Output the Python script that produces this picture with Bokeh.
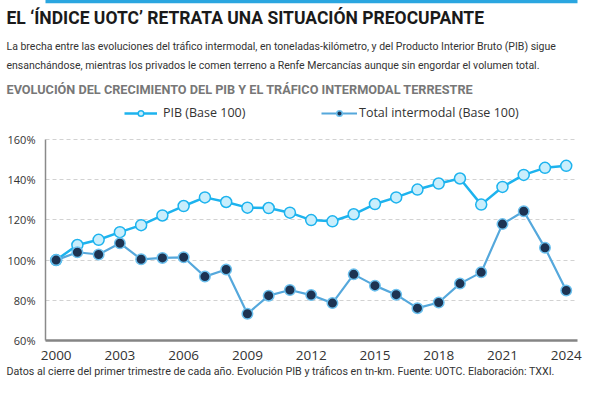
from bokeh.plotting import figure
from bokeh.models import FixedTicker, Range1d, Title, Legend, LegendItem, LinearAxis
from bokeh.embed import file_html
from bokeh.resources import INLINE

# ---- data ----
years = list(range(2000, 2025))
pib = [100, 107.5, 110.1, 113.9, 117.4, 122.2, 126.9, 131.2, 128.9, 126.1, 125.9,
       123.6, 119.9, 119.3, 122.8, 127.9, 131.2, 135.1, 138.1, 140.6, 127.6, 136.4,
       142.4, 145.9, 146.9]
intermodal = [100, 103.9, 102.8, 108.4, 100.4, 101.1, 101.4, 91.8, 95.3, 73.3, 82.3,
              85.1, 82.6, 78.6, 92.9, 87.3, 82.8, 76.1, 78.9, 88.3, 93.9, 117.9,
              124.3, 106.1, 84.9]
x_ticks = [2000, 2003, 2006, 2009, 2012, 2015, 2018, 2021, 2024]
x_tick_labels = ["2000", "2003", "2006", "2009", "2012", "2015", "2018", "2021", "2024"]
y_ticks = [60, 80, 100, 120, 140, 160]
y_tick_labels = ["60%", "80%", "100%", "120%", "140%", "160%"]
series_names = ["PIB (Base 100)", "Total intermodal (Base 100)"]

title_text = "EL \u2018\u00cdNDICE UOTC\u2019 RETRATA UNA SITUACI\u00d3N PREOCUPANTE"
sub1 = "La brecha entre las evoluciones del tr\u00e1fico intermodal, en toneladas-kil\u00f3metro, y del Producto Interior Bruto (PIB) sigue"
sub2 = "ensanch\u00e1ndose, mientras los privados le comen terreno a Renfe Mercanc\u00edas aunque sin engordar el volumen total."
heading = "EVOLUCI\u00d3N DEL CRECIMIENTO DEL PIB Y EL TR\u00c1FICO INTERMODAL TERRESTRE"
footer = "Datos al cierre del primer trimestre de cada a\u00f1o. Evoluci\u00f3n PIB y tr\u00e1ficos en tn-km. Fuente: UOTC. Elaboraci\u00f3n: TXXI."

# ---- layout / styles ----
W, H = 584, 379
FL, FR, FT, FB = 45, 577, 99, 340
PX_PER_PCT = 2.01
Y_TOP = 160 + (139 - FT) / PX_PER_PCT
X0, X1 = 1999.5, 2024.53
pib_col = "#1db3ee"
pib_fill = "#c9eefc"
int_line = "#55a8dc"
int_fill = "#1d3352"
int_edge = "#6cc0ee"
bar_col = "#2aa6e0"

p = figure(width=W, height=H, output_backend="svg", toolbar_location=None,
           x_range=Range1d(X0, X1), y_range=Range1d(60, Y_TOP),
           min_border_left=FL, min_border_right=W - FR,
           min_border_top=FT, min_border_bottom=H - FB)
p.outline_line_color = None
p.background_fill_color = "white"
p.border_fill_color = "white"
p.xgrid.grid_line_color = None
p.ygrid.grid_line_color = "#d2d2d2"
p.ygrid.grid_line_dash = "4 3"
p.ygrid.grid_line_width = 1

p.xaxis.ticker = FixedTicker(ticks=x_ticks)
p.xaxis.major_label_overrides = dict(zip(x_ticks, x_tick_labels))
p.yaxis.ticker = FixedTicker(ticks=y_ticks)
p.ygrid.ticker = FixedTicker(ticks=y_ticks[1:])
p.yaxis.major_label_overrides = dict(zip(y_ticks, y_tick_labels))
p.yaxis.bounds = (60, 160)
for ax in (p.xaxis, p.yaxis):
    ax.major_tick_line_color = None
    ax.minor_tick_line_color = None
    ax.major_label_text_font = "Open Sans"
    ax.major_label_text_color = "#333333"
p.xaxis.axis_line_color = "#858585"
p.xaxis.axis_line_width = 2.5
p.xaxis.major_label_text_font_size = "13.5px"
p.xaxis.major_label_standoff = 4
p.yaxis.axis_line_color = "#8a8a8a"
p.yaxis.axis_line_width = 1.5
p.yaxis.major_label_text_font_size = "11px"
p.yaxis.major_label_standoff = 4

l1 = p.line(years, pib, line_color=pib_col, line_width=2.5)
s1 = p.scatter(years, pib, size=11, fill_color=pib_fill, line_color=pib_col, line_width=1.5)
l2 = p.line(years, intermodal, line_color=int_line, line_width=2.2)
s2 = p.scatter(years, intermodal, size=10.5, fill_color=int_fill, line_color=int_edge, line_width=1.5)

common = dict(orientation="horizontal", glyph_height=14, label_height=14, padding=0,
              margin=0, spacing=0, background_fill_alpha=0, border_line_alpha=0,
              label_text_font="Open Sans", label_text_font_size="12.5px",
              label_text_color="#333333")
p.add_layout(Legend(items=[LegendItem(label=series_names[0], renderers=[l1, s1])],
                    location=(124 - FL, FB - 121), glyph_width=33, label_standoff=6, **common))
p.add_layout(Legend(items=[LegendItem(label=series_names[1], renderers=[l2, s2])],
                    location=(321 - FL, FB - 121), glyph_width=36, label_standoff=2, **common))

# ---- header / footer texts (stacked from the frame outwards) ----
TX = 6 - FL


def title(text, size, color, style, standoff, font="Roboto", lh=1.2):
    return Title(text=text, align="left", offset=TX, standoff=standoff, text_font=font,
                 text_font_size=size, text_color=color, text_font_style=style,
                 text_line_height=lh)

p.add_layout(title(heading, "12.7px", "#777777", "bold", 5), "above")
p.add_layout(title(sub1 + "\n" + sub2, "10.5px", "#333333", "normal", 10, lh=1.52), "above")
p.add_layout(title(title_text, "17.5px", "#1a1a1a", "bold", 9), "above")

# thin blue rule across the top (an axis line with a single blank tick)
bar_axis = LinearAxis(ticker=FixedTicker(ticks=[2012]), major_label_overrides={2012: ""},
                      axis_line_color=bar_col, axis_line_width=3.5,
                      major_tick_line_color=None, minor_tick_line_color=None,
                      major_tick_in=0, major_tick_out=0, major_label_standoff=0,
                      major_label_text_font_size="1px")
p.add_layout(bar_axis, "above")

p.add_layout(title(footer, "10.7px", "#333333", "normal", 1), "below")

open("out.html", "w").write(file_html(p, INLINE))
